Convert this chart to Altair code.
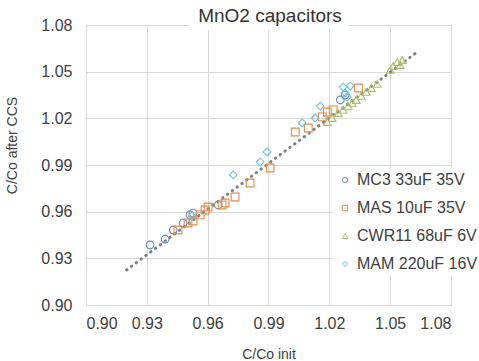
import altair as alt
import pandas as pd

series_names = ["MC3 33uF 35V", "MAS 10uF 35V", "CWR11 68uF 6V", "MAM 220uF 16V"]
series_colors = ["#6f8fc2", "#e8894a", "#a7c46a", "#6cc1dc"]
series_shapes = ["circle", "square", "triangle-up", "diamond"]

mc3_x = [0.9316, 0.9390, 0.9430, 0.9479, 0.9513, 0.9528, 0.9652, 1.0254, 1.0278]
mc3_y = [0.9386, 0.9424, 0.9482, 0.9527, 0.9579, 0.9591, 0.9643, 1.0318, 1.0350]

mas_x = [0.9454, 0.9503, 0.9528, 0.9563, 0.9587, 0.9602, 0.9671, 0.9686, 0.9735,
         0.9809, 0.9908, 1.0032, 1.0096, 1.0165, 1.0190, 1.0219, 1.0343]
mas_y = [0.9482, 0.9527, 0.9540, 0.9579, 0.9611, 0.9630, 0.9643, 0.9656, 0.9694,
         0.9784, 0.9881, 1.0112, 1.0138, 1.0209, 1.0241, 1.0254, 1.0395]

cwr_x = [1.0190, 1.0214, 1.0244, 1.0268, 1.0293, 1.0313, 1.0333, 1.0357, 1.0382,
         1.0407, 1.0436, 1.0500, 1.0515, 1.0535, 1.0550, 1.0560]
cwr_y = [1.0176, 1.0202, 1.0234, 1.0254, 1.0280, 1.0299, 1.0318, 1.0344, 1.0370,
         1.0395, 1.0421, 1.0511, 1.0537, 1.0562, 1.0543, 1.0575]

mam_x = [0.9523, 0.9726, 0.9859, 0.9893, 1.0066, 1.0130, 1.0155, 1.0268, 1.0303, 1.0278, 1.0288]
mam_y = [0.9572, 0.9836, 0.9919, 0.9984, 1.0170, 1.0202, 1.0279, 1.0401, 1.0408, 1.0363, 1.0337]

trend_x = [0.920, 1.064]
trend_y = [0.9225, 1.0633]

tick_values = [0.90, 0.93, 0.96, 0.99, 1.02, 1.05, 1.08]

rows = []
for name, xs, ys in zip(series_names, [mc3_x, mas_x, cwr_x, mam_x], [mc3_y, mas_y, cwr_y, mam_y]):
    for a, b in zip(xs, ys):
        rows.append({"series": name, "x": a, "y": b})
df = pd.DataFrame(rows)
trend_df = pd.DataFrame({"x": trend_x, "y": trend_y})

xscale = alt.Scale(domain=[0.90, 1.08], nice=False, zero=False)
yscale = alt.Scale(domain=[0.90, 1.08], nice=False, zero=False)

xaxis = alt.Axis(values=tick_values, format=".2f", title="C/Co init", ticks=False, domain=False,
                 labelPadding=10, titlePadding=16, titleFontSize=14)
yaxis = alt.Axis(values=tick_values, format=".2f", title="C/Co after CCS", ticks=False, domain=False,
                 labelPadding=14, titleX=-74, titleY=120, titleBaseline="middle", titleFontSize=14)

trend = alt.Chart(trend_df).mark_line(
    color="#808080", strokeDash=[0.5, 5.5], strokeWidth=3, strokeCap="round"
).encode(
    x=alt.X("x:Q", scale=xscale, axis=xaxis),
    y=alt.Y("y:Q", scale=yscale, axis=yaxis),
)

points = alt.Chart(df).mark_point(filled=False, strokeWidth=1.1, size=60, opacity=1).encode(
    x=alt.X("x:Q", scale=xscale, axis=xaxis),
    y=alt.Y("y:Q", scale=yscale, axis=yaxis),
    color=alt.Color("series:N", scale=alt.Scale(domain=series_names, range=series_colors),
                    legend=alt.Legend(title=None, orient="none", legendX=247, legendY=143,
                                      fillColor="white", padding=4, symbolSize=30,
                                      symbolStrokeWidth=1, labelFontSize=16, rowPadding=12,
                                      labelOffset=4, labelColor="#404040", symbolFillColor="transparent")),
    shape=alt.Shape("series:N", scale=alt.Scale(domain=series_names, range=series_shapes)),
)

title_bg = alt.Chart(alt.Data(values=[{}])).mark_rect(color="white").encode(
    x=alt.value(103), x2=alt.value(264), y=alt.value(-20), y2=alt.value(5)
)
title_txt = alt.Chart(alt.Data(values=[{}])).mark_text(
    text="MnO2 capacitors", fontSize=19, color="#333333", baseline="alphabetic", align="center"
).encode(x=alt.value(184), y=alt.value(-3))

chart = alt.layer(trend, points, title_bg, title_txt).properties(
    width=365, height=280,
    autosize=alt.AutoSizeParams(type="none"),
    padding={"left": 86, "top": 25, "right": 28, "bottom": 56},
).configure_view(
    stroke="#a0a0a0", strokeWidth=1
).configure_axis(
    gridColor="#d9d9d9", gridWidth=1, labelFontSize=16, labelColor="#404040",
    titleColor="#404040", titleFontWeight="normal", labelFont="Liberation Sans",
    titleFont="Liberation Sans"
).configure_legend(
    labelFont="Liberation Sans"
).configure_text(font="Liberation Sans")

chart.save("out.html", embed_options={"renderer": "svg", "actions": False})
